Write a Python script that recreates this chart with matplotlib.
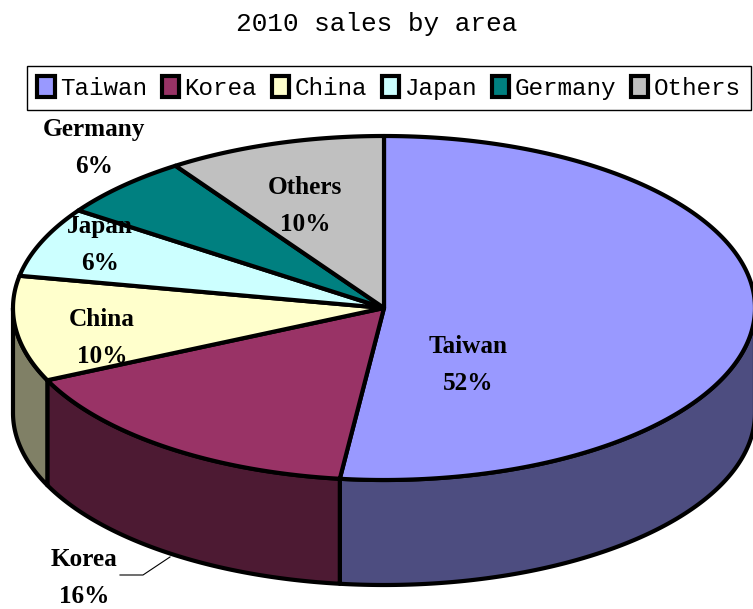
import numpy as np
import matplotlib
matplotlib.use("Agg")
import matplotlib.pyplot as plt
from matplotlib.patches import Polygon

# fatias do grafico
areas = ["Taiwan", "Korea", "China", "Japan", "Germany", "Others"]
shares = [51.9, 16.2, 9.9, 6.6, 5.9, 9.5]
percent_labels = ["52%", "16%", "10%", "6%", "6%", "10%"]
colors = ["#9999FF", "#993366", "#FFFFCC", "#CCFFFF", "#008080", "#C0C0C0"]
side_colors = ["#4D4D80", "#4D1A33", "#808066", "#668080", "#004040", "#606060"]

# posicao dos rotulos em pixels
label_x = [468, 84, 102, 100, 94, 305]
label_y = [365, 578, 338, 245, 148, 206]

cx, cy = 384, 308
rx, ry = 371, 172
depth = 105
lw = 3.0
label_font = "Liberation Serif"
mono_font = "Liberation Mono"


def arc(a0, a1, dy=0):
    t = np.radians(np.linspace(a0, a1, 200))
    return np.column_stack([cx + rx * np.sin(t), cy + dy - ry * np.cos(t)])


fig = plt.figure(figsize=(7.53, 6.09), dpi=100)
ax = fig.add_axes([0, 0, 1, 1])
ax.set_xlim(0, 753)
ax.set_ylim(609, 0)
ax.axis("off")

edges = np.cumsum([0] + shares) / sum(shares) * 360

# lateral: so a parte da frente aparece (90 a 270 graus)
for i in range(len(shares)):
    a0 = max(edges[i], 90)
    a1 = min(edges[i + 1], 270)
    if a1 <= a0:
        continue
    pts = np.vstack([arc(a0, a1), arc(a0, a1, depth)[::-1]])
    ax.add_patch(Polygon(pts, closed=True, fc=side_colors[i], ec="black", lw=lw, joinstyle="round"))

# topo
handles = []
for i in range(len(shares)):
    pts = np.vstack([[cx, cy], arc(edges[i], edges[i + 1])])
    p = Polygon(pts, closed=True, fc=colors[i], ec="black", lw=lw, joinstyle="round", label=areas[i])
    ax.add_patch(p)
    handles.append(p)

# rotulos
for i in range(len(shares)):
    ax.text(label_x[i], label_y[i], f"{areas[i]}\n{percent_labels[i]}", ha="center", va="center",
            family=label_font, weight="bold", fontsize=18.2, linespacing=1.78, color="black")

# linha guia da Korea
ax.plot([120, 143, 170], [575, 575, 557], color="black", lw=0.8)

fig.text(377 / 753, 1 - 24 / 609, "2010 sales by area", ha="center", va="center",
         family=mono_font, fontsize=18.8)

leg = fig.legend(handles=handles, loc="lower left",
                 bbox_to_anchor=(27 / 753, 1 - 110 / 609, 724 / 753, 45 / 609),
                 bbox_transform=fig.transFigure, mode="expand", ncol=6,
                 prop={"family": mono_font, "size": 17.5}, fancybox=False, framealpha=1,
                 edgecolor="black", handlelength=0.72, handleheight=0.95, handletextpad=0.22,
                 columnspacing=0.3, borderpad=0.42, borderaxespad=0)
leg.get_frame().set_linewidth(1.0)

fig.savefig("out.png", dpi=100)
plt.close(fig)
